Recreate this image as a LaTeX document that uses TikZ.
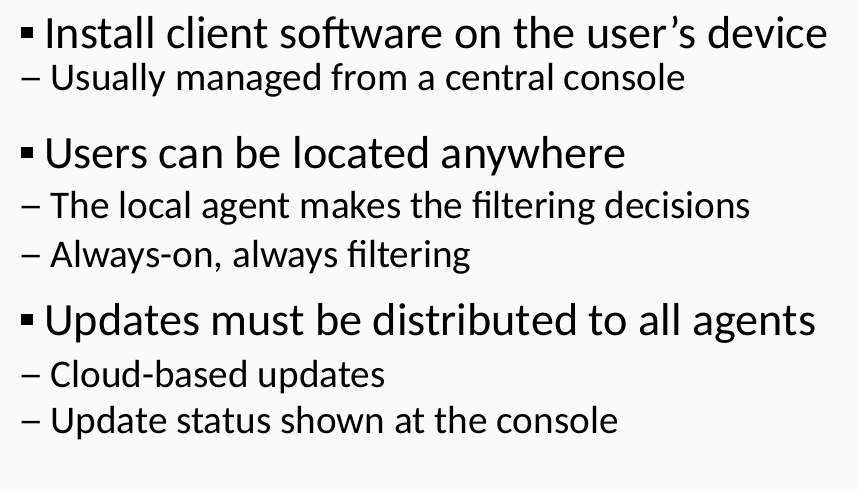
\documentclass[tikz,border=0pt]{standalone}
\usepackage{fontspec}
\setmainfont{Carlito}
\usetikzlibrary{positioning}

\newcommand{\subdash}{\scalebox{1.3}[1]{–}\hspace{7pt}}

\tikzset{
    mainitem/.style={anchor=base west, inner sep=0pt, font=\fontsize{46.2}{46}\selectfont},
    subitem/.style={anchor=base west, inner sep=0pt, font=\fontsize{39.2}{39}\selectfont},
    sqbullet/.style={fill=black, minimum size=11.5pt, inner sep=0pt},
}

\begin{document}
\begin{tikzpicture}[x=1pt, y=-1pt]
            % background
            \fill[white!98!black] (0,0) rectangle (857,491);
            \useasboundingbox (0,0) rectangle (857,491);

            % first point
            \node[sqbullet] (b1) at (27,32.5) {};
            \node[mainitem] (m1) at (44,48) {Install client software on the user’s device};
            \node[subitem] (s11) at (18,90) {\subdash Usually managed from a central console};

            % second point
            \node[sqbullet] (b2) at (27,152.5) {};
            \node[mainitem] (m2) at (44,168) {Users can be located anywhere};
            \node[subitem] (s21) at (18,218) {\subdash The local agent makes the filtering decisions};
            \node[subitem] (s22) at (18,267) {\subdash Always-on, always filtering};

            % third point
            \node[sqbullet] (b3) at (27,319.5) {};
            \node[mainitem] (m3) at (44,335) {Updates must be distributed to all agents};
            \node[subitem] (s31) at (18,387) {\subdash Cloud-based updates};
            \node[subitem] (s32) at (18,433) {\subdash Update status shown at the console};
\end{tikzpicture}
\end{document}
